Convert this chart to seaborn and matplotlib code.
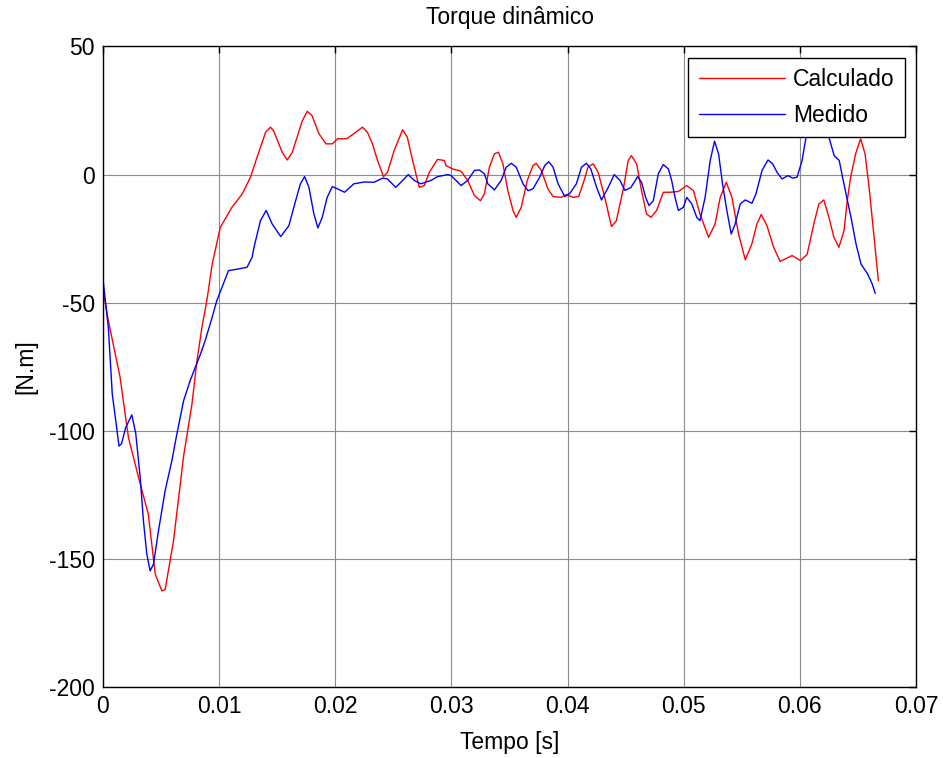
import matplotlib
matplotlib.use("Agg")
import matplotlib.pyplot as plt
import pandas as pd
import seaborn as sns

sns.set_style("white")
plt.rcParams["font.family"] = ["Liberation Sans", "DejaVu Sans"]
plt.rcParams["axes.unicode_minus"] = False
plt.rcParams["text.color"] = "black"
plt.rcParams["axes.labelcolor"] = "black"

# Calculado (vermelho)
t_calc = [0.0, 0.00046, 0.00147, 0.00219, 0.00305, 0.0039, 0.0045, 0.00507, 0.00535, 0.00607,
          0.00694, 0.00766, 0.00809, 0.00852, 0.00895, 0.0094, 0.0101, 0.0111, 0.0120, 0.0127,
          0.01327, 0.0140, 0.01442, 0.0147, 0.01543, 0.01586, 0.0163, 0.01716, 0.01759, 0.0180,
          0.0186, 0.0192, 0.01975, 0.0202, 0.0210, 0.02176, 0.02234, 0.02277, 0.0232, 0.02364,
          0.02415, 0.0245, 0.02507, 0.0258, 0.0262, 0.02666, 0.02723, 0.02766, 0.0281, 0.0288,
          0.0294, 0.02953, 0.0301, 0.03083, 0.0314, 0.03198, 0.0325, 0.03284, 0.03327, 0.0337,
          0.03405, 0.03443, 0.03486, 0.0353, 0.03558, 0.03601, 0.03653, 0.03702, 0.0373, 0.03774,
          0.03831, 0.03875, 0.03946, 0.0399, 0.04047, 0.04096, 0.04142, 0.04176, 0.0422, 0.04263,
          0.0432, 0.04378, 0.0442, 0.0448, 0.04522, 0.0455, 0.04594, 0.04637, 0.0468, 0.04718,
          0.04767, 0.04824, 0.0488, 0.04954, 0.05026, 0.05084, 0.0514, 0.05214, 0.0527, 0.05314,
          0.05366, 0.05415, 0.05472, 0.0553, 0.05587, 0.0563, 0.05667, 0.05717, 0.05774, 0.0583,
          0.05933, 0.06004, 0.06062, 0.0612, 0.06163, 0.06206, 0.0625, 0.06293, 0.06336, 0.0638,
          0.06408, 0.06437, 0.0648, 0.06523, 0.06561, 0.06596, 0.0663, 0.06676]
v_calc = [-45, -57, -79, -102.6, -118, -132.5, -156, -162.5, -162, -143,
          -110, -89.6, -72.7, -59.6, -49, -35, -20.6, -12.8, -7.5, -1,
          6.8, 16.5, 18.5, 17, 8.7, 5.7, 8.7, 21, 24.7, 23,
          15.9, 12, 12, 14, 14, 16.5, 18.5, 16.5, 12, 5.5,
          -0.8, 0.9, 9.4, 17.5, 14.6, 5.5, -5, -4.3, 0.9, 5.9,
          5.5, 3.5, 2.2, 1.3, -2.3, -8.2, -10.2, -7.5, 2.9, 8.1,
          8.7, 4.2, -6.3, -14, -16.7, -12.8, -2.3, 3.5, 4.4, 1.6,
          -5.6, -8.6, -8.9, -7.8, -8.9, -8.6, -2.3, 2.9, 4.2, 0.9,
          -8.9, -20.3, -18, -5.6, 5.5, 7.4, 4.2, -6.3, -15.4, -16.7,
          -14, -6.9, -6.9, -6.6, -4.3, -6.3, -15.4, -24.5, -19.3, -8.9,
          -3, -8.9, -23.2, -33.3, -27, -19.3, -15.6, -20, -28.4, -33.9,
          -31.6, -33.6, -31.2, -19.3, -11.5, -9.9, -16.7, -24.5, -28.4, -21.9,
          -10.2, -1, 8.1, 14, 8.1, -5, -20.6, -41.4]

# Medido (azul)
t_med = [0.0, 0.00046, 0.0008, 0.0011, 0.00138, 0.0016, 0.00196, 0.00248, 0.00282, 0.0032,
         0.00348, 0.00377, 0.00406, 0.00435, 0.00478, 0.00535, 0.00593, 0.00636, 0.00694, 0.0075,
         0.00794, 0.0084, 0.0088, 0.0094, 0.0098, 0.01025, 0.0108, 0.0117, 0.0124, 0.01284,
         0.0130, 0.01356, 0.01405, 0.01457, 0.0153, 0.016, 0.0166, 0.017, 0.01736, 0.01773,
         0.01816, 0.0185, 0.01888, 0.0193, 0.01975, 0.0202, 0.0208, 0.0216, 0.02248, 0.02334,
         0.02407, 0.0245, 0.0252, 0.0258, 0.02628, 0.0268, 0.02737, 0.02824, 0.0288, 0.0297,
         0.02997, 0.03083, 0.0314, 0.03198, 0.0324, 0.03284, 0.03313, 0.0337, 0.03428, 0.03472,
         0.03515, 0.03558, 0.03616, 0.0366, 0.03702, 0.0376, 0.03803, 0.03838, 0.03875, 0.03918,
         0.03976, 0.0402, 0.04076, 0.0412, 0.04163, 0.042, 0.0425, 0.04292, 0.0435, 0.04402,
         0.04451, 0.04494, 0.04546, 0.04603, 0.04637, 0.04672, 0.04701, 0.04738, 0.04781, 0.04824,
         0.04868, 0.04896, 0.04925, 0.04954, 0.04997, 0.05026, 0.0507, 0.05112, 0.0514, 0.05184,
         0.05228, 0.05265, 0.053, 0.05334, 0.05371, 0.05409, 0.05443, 0.05486, 0.0553, 0.05587,
         0.05622, 0.05674, 0.05726, 0.05766, 0.05803, 0.05846, 0.05898, 0.05938, 0.05976, 0.06019,
         0.06048, 0.06062, 0.0612, 0.0618, 0.0622, 0.06252, 0.06295, 0.06339, 0.06367, 0.0641,
         0.0644, 0.06483, 0.06526, 0.06583, 0.06621, 0.06649]
v_med = [-40.8, -59.6, -85.7, -96, -106, -105, -98.7, -93.8, -101, -118,
         -135, -148, -154.7, -152, -139, -123.4, -111.7, -101.3, -88.3, -80.5,
         -75.3, -70, -64.8, -55.7, -49.2, -44, -37.5, -36.8, -36.2, -32.3,
         -28.4, -18, -14, -19.3, -24.2, -20, -10, -3.6, -0.8, -5,
         -15.4, -20.8, -16.7, -8.9, -4.7, -5.6, -6.9, -3.6, -2.9, -3,
         -1.4, -1.7, -5, -2.3, 0, -2.3, -3.6, -2.3, -0.8, 0,
         -0.4, -4.3, -2.3, 1.6, 1.8, 0.3, -3.6, -6, -2.3, 2.9,
         4.4, 2.9, -3.6, -6.3, -5.6, -1, 3.5, 5, 2.9, -3.6,
         -8.6, -7.3, -3.6, 2.9, 4.4, 2.2, -5, -9.9, -5, 0,
         -2.3, -6.2, -5, -0.8, -3, -8.9, -12.1, -10.2, 0.3, 3.9,
         2.2, -2.3, -8.9, -14, -12.8, -8.9, -11.5, -16.7, -18, -8.9,
         5.5, 13, 8.1, -3.6, -14, -23.2, -19.3, -11.5, -9.9, -11.2,
         -7.5, 1.6, 5.7, 4.2, 0.9, -1.7, -0.4, -1.4, -1, 5.5,
         13.3, 16, 24, 28, 22, 14.3, 7.4, 5.5, -1, -10.2,
         -16.7, -27, -34.9, -38.8, -42.5, -46.4]

x_ticks = [0, 0.01, 0.02, 0.03, 0.04, 0.05, 0.06, 0.07]
x_tick_labels = ["0", "0.01", "0.02", "0.03", "0.04", "0.05", "0.06", "0.07"]
y_ticks = [-200, -150, -100, -50, 0, 50]

calc = pd.DataFrame({"t": t_calc, "torque": v_calc})
med = pd.DataFrame({"t": t_med, "torque": v_med})

fig = plt.figure(figsize=(9.43, 7.58), dpi=100)
ax = fig.add_axes([0.1092, 0.0937, 0.8622, 0.845])

sns.lineplot(data=calc, x="t", y="torque", color="#ff0000", linewidth=1.0,
             label="Calculado", estimator=None, sort=False, ax=ax)
sns.lineplot(data=med, x="t", y="torque", color="#0000ff", linewidth=1.0,
             label="Medido", estimator=None, sort=False, ax=ax)

ax.set_xlim(0, 0.07)
ax.set_ylim(-200, 50)
ax.set_xticks(x_ticks)
ax.set_xticklabels(x_tick_labels)
ax.set_yticks(y_ticks)
ax.grid(True, color="0.55", linewidth=0.8)
ax.tick_params(direction="in", top=True, right=True, length=5, width=1,
               labelsize=16.5, colors="black", pad=6)
for s in ax.spines.values():
    s.set_color("black")
    s.set_linewidth(1.0)

ax.set_title("Torque dinâmico", fontsize=16.5, pad=16)
ax.set_xlabel("Tempo [s]", fontsize=16.5, labelpad=9)
ax.set_ylabel("[N.m]", fontsize=16.5, labelpad=8)

leg = ax.legend(loc="upper right", fontsize=16.5, handlelength=3.75, handletextpad=0.35,
                fancybox=False, framealpha=1, edgecolor="black", borderaxespad=0.5,
                labelspacing=0.55, borderpad=0.45)
leg.get_frame().set_linewidth(1.0)

fig.savefig("out.png", dpi=100)
